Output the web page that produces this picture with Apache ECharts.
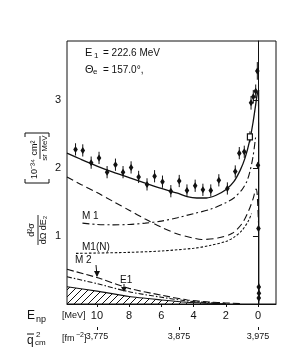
<!DOCTYPE html>
<html><head><meta charset="utf-8">
<script src="https://cdn.jsdelivr.net/npm/echarts@6/dist/echarts.min.js"></script>
<style>html,body{margin:0;padding:0;background:#fff}#c{width:305px;height:355px}</style>
</head><body><div id="c"></div>
<script>
// ---- data ----
const eTicks = [10, 8, 6, 4, 2, 0];
const qTickPos = [10, 4.9, 0];
const qTickLabels = ['3,775', '3,875', '3,975'];
const yTicks = [1, 2, 3];

const dataE = [11.33,10.88,10.36,9.87,9.37,8.85,8.38,7.88,7.41,6.89,6.42,5.93,5.41,4.89,4.41,3.90,3.42,2.93,2.43,1.90,1.41,1.16,0.85,0.43,0.29,0.14,0.04,0.0,-0.03,-0.05,-0.06,-0.05];
const dataY = [2.275,2.26,2.08,2.15,1.94,2.05,1.94,2.01,1.87,1.76,1.88,1.80,1.66,1.81,1.67,1.74,1.68,1.67,1.82,1.70,1.95,2.22,2.24,2.96,3.05,3.13,3.43,2.04,1.11,0.25,0.16,0.09];
const dataErr = [0.09,0.09,0.09,0.09,0.09,0.09,0.09,0.09,0.09,0.09,0.09,0.09,0.09,0.09,0.09,0.09,0.09,0.09,0.09,0.09,0.09,0.09,0.09,0.10,0.10,0.10,0.13,0.05,0.05,0.05,0.05,0.05];
const sqE = [0.50], sqY = [2.46], sqErr = [0.08];

const totalE = [11.86,11,10,9,8,7,6,5,4.4,3.8,3.2,2.6,2,1.5,1.1,0.8,0.5,0.3,0.15,0.05,-0.04];
const totalY = [2.22,2.13,2.03,1.94,1.86,1.78,1.70,1.63,1.58,1.56,1.56,1.60,1.68,1.80,1.97,2.15,2.42,2.68,2.92,3.08,3.15];
const dropE = [-0.04,-0.05];
const dropY = [3.15,0];

const dashE = [11.86,11,10,9,8,7,6,5,4,3.5,2.5,1.6,1,0.6,0.3,0.12,0.05,-0.03];
const dashY = [1.87,1.76,1.64,1.51,1.38,1.25,1.13,1.03,0.97,0.95,0.97,1.04,1.18,1.36,1.55,1.69,1.62,1.20];

const m1E = [10.9,10,9,8,7,6,5,4,3,2,1.5,1,0.7,0.5,0.3,0.15];
const m1Y = [1.19,1.17,1.165,1.17,1.19,1.22,1.27,1.33,1.39,1.49,1.56,1.68,1.80,1.95,2.18,2.45];

const m1nE = [11.3,10,8,6,4,3,2,1.5,1,0.6,0.4];
const m1nY = [0.745,0.75,0.76,0.78,0.82,0.86,0.92,0.98,1.08,1.22,1.33];

const m2E = [11.86,10,8,6,4.4,3,2,1];
const m2Y = [0.51,0.39,0.23,0.13,0.06,0.03,0.015,0.005];

const e1E = [11.86,10,8,6,4.4,3,2];
const e1Y = [0.40,0.30,0.18,0.10,0.045,0.02,0.008];

const hatchE = [11.86,10,8,6,4.4,3,2];
const hatchY = [0.255,0.19,0.11,0.06,0.025,0.01,0];

// ---- helpers ----
const zip = (a, b, c) => a.map((v, i) => c ? [v, b[i], c[i]] : [v, b[i]]);
const FONT = 'Liberation Sans';
const INK = '#111';

function hatchPattern() {
  const cv = document.createElement('canvas');
  cv.width = 7; cv.height = 7;
  const g = cv.getContext('2d');
  g.strokeStyle = '#111'; g.lineWidth = 1;
  g.beginPath();
  g.moveTo(0, 7); g.lineTo(7, 0);
  g.moveTo(-1, 1); g.lineTo(1, -1);
  g.moveTo(6, 8); g.lineTo(8, 6);
  g.stroke();
  return cv;
}

function errRender(shape) {
  return function (params, api) {
    const e = api.value(0), v = api.value(1), err = api.value(2);
    const p = api.coord([e, v]);
    const lo = api.coord([e, v - err]);
    const hi = api.coord([e, v + err]);
    const children = [{
      type: 'line', shape: { x1: p[0], y1: lo[1], x2: p[0], y2: hi[1] },
      style: { stroke: INK, lineWidth: 1 }
    }];
    if (shape === 'square') {
      children.push({ type: 'rect', shape: { x: p[0] - 2.5, y: p[1] - 3, width: 5, height: 6 },
        style: { fill: '#fff', stroke: INK, lineWidth: 1.2 } });
    } else {
      children.push({ type: 'polygon',
        shape: { points: [[p[0], p[1] - 3.5], [p[0] + 2.3, p[1]], [p[0], p[1] + 3.5], [p[0] - 2.3, p[1]]] },
        style: { fill: INK } });
    }
    return { type: 'group', children };
  };
}

function lineSeries(data, dash, extra) {
  return Object.assign({
    type: 'line', data, showSymbol: false, smooth: 0.3, silent: true,
    lineStyle: { color: INK, width: 1.1, type: dash }, z: 3
  }, extra || {});
}

const chart = echarts.init(document.getElementById('c'), null, { renderer: 'canvas' });

const txt = (x, y, text, size, extra) => Object.assign({
  type: 'text', x, y,
  style: { text, fill: INK, font: (size || 10) + 'px "' + FONT + '"', textVerticalAlign: 'middle' }
}, extra || {});
const ctxt = (x, y, text, size) => ({
  type: 'text', x, y,
  style: { text, fill: INK, font: size + 'px "' + FONT + '"', textAlign: 'center', textVerticalAlign: 'middle' }
});

chart.setOption({
  animation: false,
  grid: { left: 67, right: 29, top: 41, bottom: 51, show: true, borderColor: INK, borderWidth: 1 },
  xAxis: [{
    type: 'value', inverse: true, min: -1.12, max: 11.86,
    axisLine: { lineStyle: { color: INK, width: 1 } },
    splitLine: { show: false },
    axisTick: { show: true, length: 3, customValues: eTicks, lineStyle: { color: INK } },
    axisLabel: { customValues: eTicks, color: INK, fontFamily: FONT, fontSize: 11, margin: 6 }
  }, {
    type: 'value', inverse: true, min: -1.12, max: 11.86, position: 'bottom', offset: 23,
    axisLine: { show: false },
    splitLine: { show: false },
    axisTick: { show: true, length: 3, customValues: qTickPos, lineStyle: { color: INK } },
    axisLabel: {
      customValues: qTickPos, color: INK, fontFamily: FONT, fontSize: 9, margin: 5,
      formatter: v => { const i = qTickPos.indexOf(v); return i >= 0 ? qTickLabels[i] : ''; }
    }
  }],
  yAxis: {
    type: 'value', min: 0, max: 3.87,
    axisLine: { show: true, lineStyle: { color: INK, width: 1 } },
    splitLine: { show: false },
    axisTick: { show: true, length: 5, customValues: yTicks, lineStyle: { color: INK } },
    axisLabel: { customValues: yTicks, color: INK, fontFamily: FONT, fontSize: 11, margin: 6 }
  },
  series: [
    lineSeries(zip(hatchE, hatchY), 'solid', {
      smooth: 0.2,
      areaStyle: { color: { image: hatchPattern(), repeat: 'repeat' }, opacity: 1 }
    }),
    lineSeries(zip(totalE, totalY), 'solid', { lineStyle: { color: INK, width: 1.3, type: 'solid' } }),
    lineSeries(zip(dropE, dropY), 'solid', { smooth: false, lineStyle: { color: INK, width: 1.3 } }),
    lineSeries(zip(dashE, dashY), [7, 4]),
    lineSeries(zip(m1E, m1Y), [7, 3, 2, 3]),
    lineSeries(zip(m1nE, m1nY), [2.5, 1.8]),
    lineSeries(zip(m2E, m2Y), [7, 3]),
    lineSeries(zip(e1E, e1Y), [5, 2, 1.5, 2]),
    { type: 'custom', data: zip(dataE, dataY, dataErr), renderItem: errRender('diamond'), z: 5, silent: true },
    { type: 'custom', data: zip(sqE, sqY, sqErr), renderItem: errRender('square'), z: 5, silent: true }
  ],
  graphic: [
    // header annotations
    txt(85, 53, 'E', 11),
    txt(94, 56, '1', 8),
    txt(103, 53, '= 222.6 MeV', 10),
    txt(85, 70, 'Θ', 11),
    txt(93, 72, 'e', 8),
    txt(103, 70, '= 157.0°,', 10),
    // curve labels
    txt(82, 216, 'M 1', 10),
    txt(82, 247, 'M1(N)', 10),
    txt(75, 260, 'M 2', 10),
    txt(120, 280, 'E1', 10),
    { type: 'line', shape: { x1: 96, y1: 265, x2: 97, y2: 276 }, style: { stroke: INK, lineWidth: 1 } },
    { type: 'polygon', shape: { points: [[94, 271], [100, 271], [97, 277]] }, style: { fill: INK } },
    { type: 'line', shape: { x1: 124, y1: 284, x2: 124, y2: 291 }, style: { stroke: INK, lineWidth: 1 } },
    { type: 'polygon', shape: { points: [[121, 287], [127, 287], [124, 292]] }, style: { fill: INK } },
    // x axis names
    txt(27, 316, 'E', 12),
    txt(36, 320, 'np', 9),
    txt(62, 316, '[MeV]', 9),
    txt(27, 341, 'q', 12),
    { type: 'line', shape: { x1: 27, y1: 334, x2: 34, y2: 334 }, style: { stroke: INK, lineWidth: 1 } },
    txt(36, 335, '2', 8),
    txt(35, 343, 'cm', 8),
    txt(62, 339, '[fm', 9),
    txt(76, 335, '−2', 7),
    txt(84, 339, ']', 9),
    // rotated y-axis title
    {
      type: 'group', x: 38, y: 190, rotation: Math.PI / 2,
      children: [
        ctxt(-40, -6, 'd²σ', 9),
        { type: 'line', shape: { x1: -55, y1: 0, x2: -25, y2: 0 }, style: { stroke: INK, lineWidth: 0.9 } },
        ctxt(-40, 6, 'dΩ dE₂', 9),
        { type: 'polyline', shape: { points: [[11, -13], [7, -13], [7, 11], [11, 11]] }, style: { stroke: INK, lineWidth: 1, fill: null } },
        txt(11, -3, '10⁻³⁴', 9),
        ctxt(42, -3, 'cm²', 9),
        { type: 'line', shape: { x1: 31, y1: 2, x2: 54, y2: 2 }, style: { stroke: INK, lineWidth: 0.9 } },
        ctxt(42, 7, 'sr MeV', 8),
        { type: 'polyline', shape: { points: [[53, -13], [57, -13], [57, 11], [53, 11]] }, style: { stroke: INK, lineWidth: 1, fill: null } }
      ]
    }
  ]
});
</script>
</body></html>
